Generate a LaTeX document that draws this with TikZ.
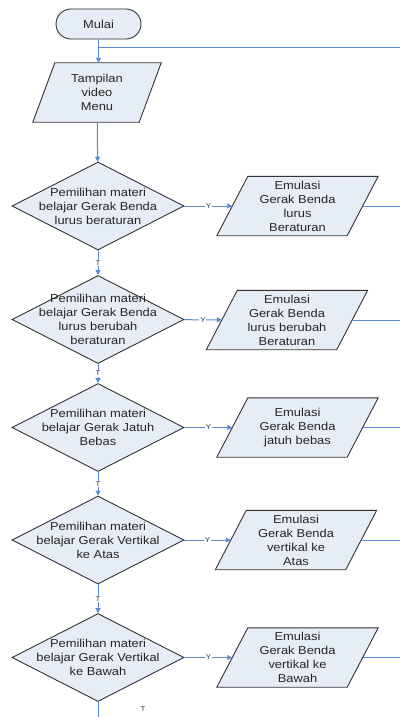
\documentclass[tikz,border=0pt]{standalone}
\usepackage{fontspec}
\setmainfont{Liberation Sans}[FakeStretch=1.12]
\usetikzlibrary{shapes.geometric,arrows.meta,backgrounds}
\definecolor{boxfill}{HTML}{E7EDF7}
\definecolor{boxline}{HTML}{333333}
\definecolor{conn}{HTML}{5A8AD0}
\begin{document}
\begin{tikzpicture}[x=1pt,y=-1pt,
  txt/.style={font=\fontsize{11.5}{14}\selectfont, align=center, text=black!85},
  decision/.style={diamond, draw=boxline, fill=boxfill, line width=0.9pt, minimum width=172pt, minimum height=88pt, inner sep=0pt},
  iobox/.style={txt, minimum width=130pt, minimum height=59pt, inner sep=0pt},
  terminal/.style={txt, draw=boxline, fill=boxfill, line width=0.9pt, rounded corners=15pt, minimum width=85pt, minimum height=30pt, inner sep=0pt},
  pshape/.style={draw=boxline, fill=boxfill, line width=0.9pt},
  flow/.style={draw=conn, line width=1pt, -{Triangle[length=5pt,width=5pt]}},
  plain/.style={draw=conn, line width=1pt},
  tag/.style={font=\fontsize{7}{8}\selectfont, fill=white, inner sep=0.8pt, text=black!80},
]
\useasboundingbox (0,0) rectangle (400,717);

% nodes
\node[terminal] (mulai) at (98.5,24) {Mulai};
\node[iobox, minimum width=106pt] (tamp) at (97,92.5) {Tampilan\\video\\Menu};

\node[decision, label={[txt]center:Pemilihan materi\\belajar Gerak Benda\\lurus beraturan}] (d1) at (98,206) {};
\node[decision, label={[txt]center:Pemilihan materi\\belajar Gerak Benda\\lurus berubah\\beraturan}] (d2) at (98,319.5) {};
\node[decision, label={[txt]center:Pemilihan materi\\belajar Gerak Jatuh\\Bebas}] (d3) at (98,427.5) {};
\node[decision, label={[txt]center:Pemilihan materi\\belajar Gerak Vertikal\\ke Atas}] (d4) at (98,540) {};
\node[decision, label={[txt]center:Pemilihan materi\\belajar Gerak Vertikal\\ke Bawah}] (d5) at (98,657.5) {};

\node[iobox] (p1) at (297.5,206) {Emulasi\\Gerak Benda\\lurus\\Beraturan};
\node[iobox] (p2) at (287,320) {Emulasi\\Gerak Benda\\lurus berubah\\Beraturan};
\node[iobox] (p3) at (297.5,427.5) {Emulasi\\Gerak Benda\\jatuh bebas};
\node[iobox] (p4) at (296,540) {Emulasi\\Gerak Benda\\vertikal ke\\Atas};
\node[iobox] (p5) at (297.5,657.5) {Emulasi\\Gerak Benda\\vertikal ke\\Bawah};

\node[tag] (tend) at (143,709) {T};

% parallelogram outlines behind the texts
\begin{scope}[on background layer]
  \draw[pshape] ([xshift=11pt]tamp.north west) -- ([xshift=11pt]tamp.north east) -- ([xshift=-11pt]tamp.south east) -- ([xshift=-11pt]tamp.south west) -- cycle;
  \foreach \p in {p1,p2,p3,p4,p5}{
    \draw[pshape] ([xshift=15.5pt]\p.north west) -- ([xshift=15.5pt]\p.north east) -- ([xshift=-15.5pt]\p.south east) -- ([xshift=-15.5pt]\p.south west) -- cycle;
  }
\end{scope}

% coordinates
\coordinate (j) at (98,48);
\coordinate (jr) at (400,48);
\coordinate (bot) at (98,717);

% connectors
\draw[plain] (jr) -- (j);
\draw[flow] (mulai) -- (mulai |- tamp.north);
\draw[flow] (tamp) -- (d1);
\draw[flow] (d1) -- node[tag]{T} (d2);
\draw[flow] (d2) -- node[tag]{T} (d3);
\draw[flow] (d3) -- node[tag]{T} (d4);
\draw[flow] (d4) -- node[tag]{T} (d5);
\draw[plain] (d5) -- (bot);

\foreach \d/\p in {d1/p1,d2/p2,d3/p3,d4/p4,d5/p5}{
  \draw[flow] (\d) -- node[tag]{Y} (\p);
  \draw[plain] (\p.east) -- (\p.east -| jr);
}
\end{tikzpicture}
\end{document}
